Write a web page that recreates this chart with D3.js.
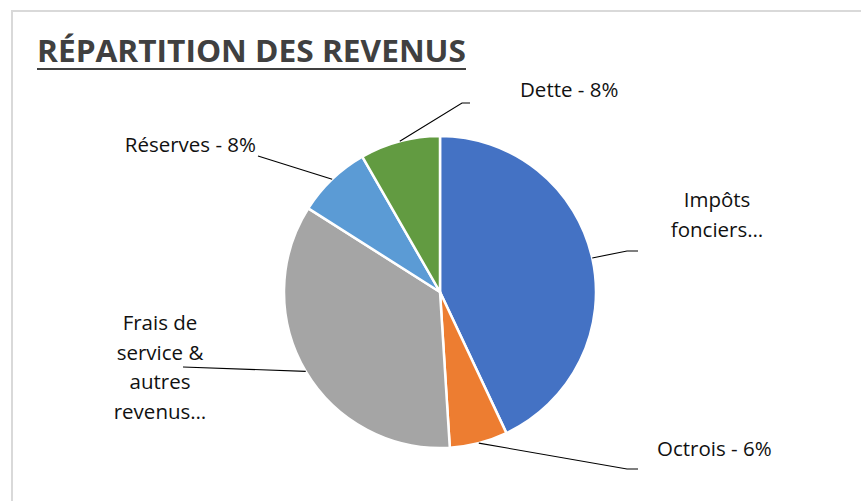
<!DOCTYPE html>
<html>
<head>
<meta charset="utf-8">
<script src="https://cdn.jsdelivr.net/npm/d3@7"></script>
<style>
  body { margin: 0; background: #fff; }
  svg { display: block; }
  text { font-family: "Open Sans", "Noto Sans", sans-serif; }
</style>
</head>
<body>
<svg id="chart" width="861" height="501"></svg>
<script>
// data
var categories = ["Impôts fonciers", "Octrois", "Frais de service & autres revenus", "Réserves", "Dette"];
var shares = [0.43, 0.06, 0.35, 0.077, 0.083];
var labelLines = [
  ["Impôts", "fonciers…"],
  ["Octrois - 6%"],
  ["Frais de", "service &", "autres", "revenus…"],
  ["Réserves - 8%"],
  ["Dette - 8%"]
];
var colors = ["#4472C4", "#ED7D31", "#A5A5A5", "#5B9BD5", "#629B41"];

// label layout (where the leader line ends / text sits)
var labelLayout = [
  {elbow: [627, 251], end: [638, 251], tx: 717, ty: 207, anchor: "middle"},
  {elbow: [627, 469], end: [638, 469], tx: 657, ty: 456, anchor: "start"},
  {elbow: [183, 367], end: [183, 367], tx: 160, ty: 330, anchor: "middle"},
  {elbow: [258, 156], end: [258, 156], tx: 256, ty: 152, anchor: "end"},
  {elbow: [462, 103], end: [470, 103], tx: 520, ty: 97, anchor: "start"}
];

var svg = d3.select("#chart");
var cx = 440, cy = 292, radius = 156;

// frame
svg.append("rect").attr("x", 12).attr("y", 11).attr("width", 870).attr("height", 520)
  .attr("fill", "#fff").attr("stroke", "#d9d9d9").attr("stroke-width", 2);

// title
svg.append("text")
  .attr("x", 37).attr("y", 62)
  .attr("font-family", "'Liberation Sans Narrow', 'Open Sans', sans-serif")
  .attr("font-size", 31).attr("font-weight", "bold")
  .attr("fill", "#404040")
  .attr("textLength", 429).attr("lengthAdjust", "spacingAndGlyphs")
  .text("RÉPARTITION DES REVENUS");
svg.append("line").attr("x1", 37).attr("x2", 466).attr("y1", 69).attr("y2", 69)
  .attr("stroke", "#404040").attr("stroke-width", 2.2);

var pie = d3.pie().sort(null).value(function(d){ return d; });
var arcs = pie(shares);
var arc = d3.arc().innerRadius(0).outerRadius(radius);
var edge = d3.arc().innerRadius(radius).outerRadius(radius);

var g = svg.append("g").attr("transform", "translate(" + cx + "," + cy + ")");

g.selectAll("path.slice").data(arcs).enter().append("path")
  .attr("class", "slice")
  .attr("d", arc)
  .attr("fill", function(d, i){ return colors[i]; })
  .attr("stroke", "#fff").attr("stroke-width", 2.5)
  .attr("stroke-linejoin", "round");

// leader lines
svg.selectAll("polyline.leader").data(arcs).enter().append("polyline")
  .attr("class", "leader")
  .attr("fill", "none").attr("stroke", "#000").attr("stroke-width", 1.1)
  .attr("points", function(d, i){
    var c = edge.centroid(d);
    var L = labelLayout[i];
    return [[cx + c[0], cy + c[1]], L.elbow, L.end].map(function(p){ return p.join(","); }).join(" ");
  });

// labels
svg.selectAll("text.lbl").data(arcs).enter().append("text")
  .attr("class", "lbl")
  .attr("font-size", 20.5).attr("fill", "#111")
  .attr("text-anchor", function(d, i){ return labelLayout[i].anchor; })
  .each(function(d, i){
    var L = labelLayout[i];
    var t = d3.select(this);
    labelLines[i].forEach(function(s, k){
      t.append("tspan").attr("x", L.tx).attr("y", L.ty + k * 29.5).text(s);
    });
  });
</script>
</body>
</html>
